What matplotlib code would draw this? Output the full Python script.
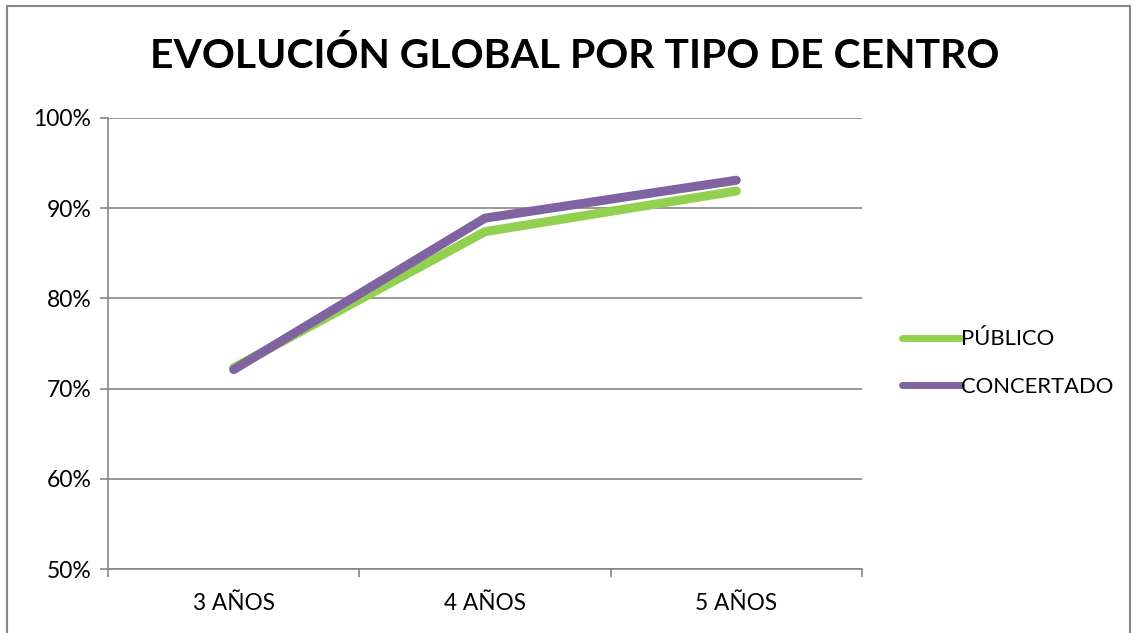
import matplotlib.pyplot as plt
from matplotlib.patches import Rectangle
from matplotlib.ticker import FuncFormatter

categories = ['3 AÑOS', '4 AÑOS', '5 AÑOS']
publico = [72.3, 87.4, 91.9]
concertado = [72.1, 88.9, 93.1]
yticks = [50, 60, 70, 80, 90, 100]

plt.rcParams['font.family'] = ['Lato', 'DejaVu Sans']

fig = plt.figure(figsize=(11.34, 6.33), dpi=100)
ax = fig.add_axes([108/1134, 1 - 569/633, (862 - 108)/1134, (569 - 118)/633])

x = [0.5, 1.5, 2.5]
ax.plot(x, publico, color='#92d050', lw=6.5, solid_capstyle='round',
        solid_joinstyle='miter', label='PÚBLICO')
ax.plot(x, concertado, color='#8064a2', lw=6.5, solid_capstyle='round',
        solid_joinstyle='miter', label='CONCERTADO')

ax.set_xlim(0, 3)
ax.set_ylim(50, 100)
ax.set_yticks(yticks)
ax.yaxis.set_major_formatter(FuncFormatter(lambda v, p: f'{v:.0f}%'))
ax.grid(axis='y', color='#868686', lw=1.2)
ax.set_axisbelow(True)

ax.set_xticks([0, 1, 2, 3])
ax.set_xticklabels([])
ax.set_xticks(x, minor=True)
ax.set_xticklabels(categories, minor=True)
ax.tick_params(axis='x', which='major', direction='out', length=6,
               color='#868686', width=1.2)
ax.tick_params(axis='x', which='minor', length=0, pad=17, labelsize=16.3)
ax.tick_params(axis='y', direction='out', length=6, color='#868686',
               width=1.2, labelsize=16.5, pad=6)

for s in ['top', 'right']:
    ax.spines[s].set_visible(False)
for s in ['left', 'bottom']:
    ax.spines[s].set_color('#868686')
    ax.spines[s].set_linewidth(1.2)

leg = fig.legend(loc='center left', bbox_to_anchor=(882/1134, 1 - 363/633),
                 frameon=False, fontsize=15.8, handlelength=2.7,
                 handletextpad=0.0, labelspacing=1.25)
for h in leg.get_lines():
    h.set_linewidth(5)

fig.text(575/1134, 1 - 56/633, 'EVOLUCIÓN GLOBAL POR TIPO DE CENTRO',
         ha='center', va='center', fontsize=29.4, fontweight='bold')

fig.patches.append(Rectangle((7/1134, -0.1), (1130 - 7)/1134, 1.1 - 6/633,
                             transform=fig.transFigure, fill=False,
                             ec='#868686', lw=1.5))

fig.savefig('out.png', dpi=100)
